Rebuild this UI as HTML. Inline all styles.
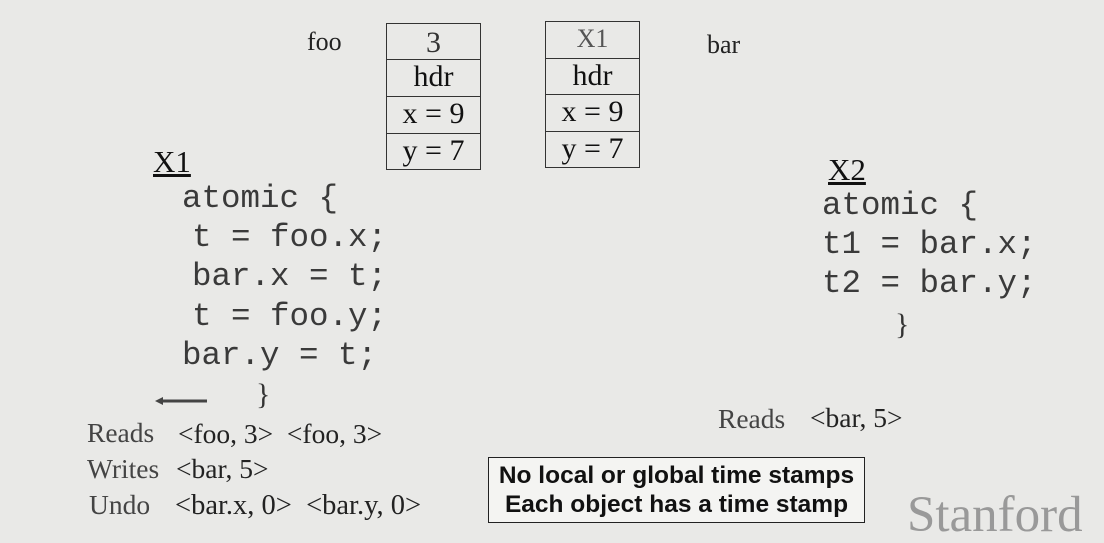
<!DOCTYPE html>
<html><head><style>
body{margin:0;width:1104px;height:543px;background:#e9e9e7;position:relative;overflow:hidden;font-family:"Liberation Serif",serif;color:#111}
.a{position:absolute;white-space:pre;line-height:1}
.m{font-family:"Liberation Mono",monospace;font-size:32.5px;color:#3a3a3a}
.s{font-size:27.5px;color:#222}
.g{color:#444}
.box{position:absolute;border:1px solid #333;box-sizing:border-box}
.row{position:absolute;left:0;right:0;border-top:1px solid #333;text-align:center;font-size:30px;line-height:34px}
</style></head><body>
<div class="a s" style="left:307px;top:29px;font-size:26px">foo</div>
<div class="a s" style="left:707px;top:32px;font-size:26px">bar</div>

<div class="box" style="left:386px;top:23px;width:95px;height:147px">
 <div class="row" style="top:2px;height:36px;border-top:none;color:#333">3</div>
 <div class="row" style="top:35px;height:37px">hdr</div>
 <div class="row" style="top:72px;height:37px">x = 9</div>
 <div class="row" style="top:109px;height:37px">y = 7</div>
</div>
<div class="box" style="left:545px;top:21px;width:95px;height:147px">
 <div class="row" style="top:0px;height:37px;border-top:none;color:#555;font-size:26px">X1</div>
 <div class="row" style="top:36px;height:36px">hdr</div>
 <div class="row" style="top:72px;height:37px">x = 9</div>
 <div class="row" style="top:109px;height:37px">y = 7</div>
</div>

<div class="a" style="left:153px;top:146px;font-size:31px;text-decoration:underline">X1</div>
<div class="a m" style="left:182px;top:183px">atomic {</div>
<div class="a m" style="left:192px;top:222px">t = foo.x;</div>
<div class="a m" style="left:192px;top:261px">bar.x = t;</div>
<div class="a m" style="left:192px;top:301px">t = foo.y;</div>
<div class="a m" style="left:182px;top:340px">bar.y = t;</div>
<div class="a" style="left:256px;top:380px;font-size:30px;color:#333">}</div>
<svg class="a" style="left:155px;top:395px" width="55" height="12"><line x1="6" y1="6" x2="52" y2="6" stroke="#444" stroke-width="3"/><polygon points="0,6 8,2 8,10" fill="#444"/></svg>

<div class="a s g" style="left:87px;top:419px">Reads</div>
<div class="a s" style="left:178px;top:420px">&lt;foo, 3&gt;  &lt;foo, 3&gt;</div>
<div class="a s g" style="left:87px;top:455px">Writes</div>
<div class="a s" style="left:176px;top:455px">&lt;bar, 5&gt;</div>
<div class="a s g" style="left:89px;top:491px">Undo</div>
<div class="a s" style="left:175px;top:492px;font-size:28.5px">&lt;bar.x, 0&gt;  &lt;bar.y, 0&gt;</div>

<div class="a" style="left:828px;top:154px;font-size:31px;text-decoration:underline">X2</div>
<div class="a m" style="left:822px;top:190px">atomic {</div>
<div class="a m" style="left:822px;top:229px">t1 = bar.x;</div>
<div class="a m" style="left:822px;top:268px">t2 = bar.y;</div>
<div class="a" style="left:895px;top:310px;font-size:30px;color:#333">}</div>
<div class="a s g" style="left:718px;top:405px">Reads</div>
<div class="a s" style="left:810px;top:404px">&lt;bar, 5&gt;</div>

<div style="position:absolute;left:488px;top:457px;width:377px;height:66px;border:1.5px solid #222;box-sizing:border-box;background:#f4f4f2;font-family:'Liberation Sans',sans-serif;font-weight:bold;font-size:24.5px;text-align:center;line-height:29px;padding-top:3px;white-space:nowrap">No local or global time stamps<br>Each object has a time stamp</div>

<div class="a" style="left:907px;top:490px;font-size:51px;color:#999">Stanford</div>
</body></html>
